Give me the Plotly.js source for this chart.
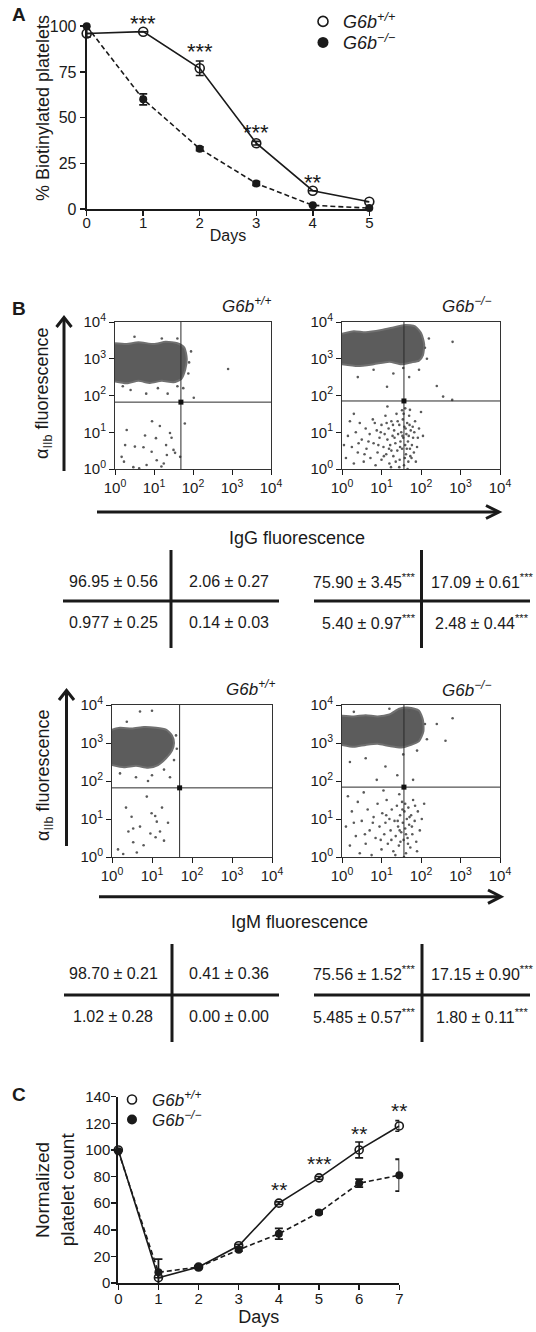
<!DOCTYPE html>
<html><head><meta charset="utf-8">
<script src="https://cdn.plot.ly/plotly-3.0.1.min.js"></script>
<style>html,body{margin:0;padding:0;background:#fff}#chart{width:536px;height:1332px}</style>
</head><body><div id="chart"></div>
<script>
// ---------------- DATA ----------------
// Panel A: % biotinylated platelets
const daysA = [0, 1, 2, 3, 4, 5];
const biotinWT = [96, 97, 77, 36, 10, 4];
const biotinWTerr = [null, null, 4, 1, null, null];
const biotinKO = [100, 60, 33, 14, 2, 0.5];
const biotinKOerr = [6, 3, 1, 1, null, null];
const starsADays = [1, 2, 3, 4];
const starsAText = ['***', '***', '***', '**'];
const starsAY = [104.5, 89.7, 45, 18];

// Panel B: flow cytometry (log10 decades), gates
const gateX = [49, 37, 49, 37];
const gateY = [66, 71, 66, 69];
// dense populations (outline, log10 units)
const c1x = [0,0.3,0.6,0.9,1.2,1.5,1.7,1.8,1.84,1.78,1.6,1.3,1.0,0.6,0.3,0];
const c1y = [2.38,2.33,2.40,2.34,2.40,2.36,2.45,2.7,3.0,3.3,3.42,3.46,3.40,3.45,3.40,3.42];
const c2x = [0,0.4,0.8,1.2,1.5,1.75,1.95,2.05,2.08,2.0,1.85,1.6,1.3,1.0,0.6,0.3,0];
const c2y = [2.85,2.8,2.85,2.92,2.85,2.9,2.95,3.1,3.4,3.7,3.88,3.92,3.85,3.78,3.72,3.75,3.68];
const c3x = [0,0.3,0.6,0.9,1.15,1.35,1.5,1.55,1.5,1.35,1.1,0.8,0.5,0.2,0];
const c3y = [2.42,2.36,2.40,2.35,2.42,2.6,2.8,3.0,3.2,3.35,3.4,3.42,3.38,3.4,3.35];
const c4x = [0,0.3,0.6,0.9,1.2,1.5,1.75,1.95,2.06,2.05,1.95,1.7,1.45,1.2,0.9,0.6,0.3,0];
const c4y = [2.95,2.9,2.95,2.98,2.92,2.88,2.95,3.05,3.3,3.6,3.85,3.93,3.9,3.75,3.7,3.73,3.7,3.72];
// sparse events (log10 units)
const d1x = [0.30,0.26,0.51,0.77,1.05,1.15,1.31,1.41,1.50,1.54,1.33,1.07,0.94,0.23,0.17,0.47,0.73,1.19,0.81,1.67,1.79,0.40,0.80,1.10,1.35,1.60,1.75,0.20,1.90,1.95,1.88,0.50,1.20,1.60,2.90,2.02,1.25,0.62,1.45,0.95];
const d1y = [1.06,0.65,0.61,0.91,0.84,1.17,0.65,0.98,0.52,0.44,0.38,0.24,0.47,0.20,0.33,0.05,0.59,0.07,0.11,0.33,1.24,2.15,2.05,2.20,2.05,2.25,2.20,2.25,2.90,3.20,2.60,3.60,3.55,3.55,2.72,1.94,0.15,0.02,0.85,1.30];
const d2x = [0.1,0.15,0.2,0.25,0.3,0.35,0.4,0.45,0.5,0.55,0.6,0.62,0.7,0.72,0.78,0.8,0.85,0.88,0.9,0.95,1.0,1.0,1.05,1.08,1.1,1.12,1.15,1.18,1.2,1.22,1.25,1.28,1.3,1.32,1.35,1.38,1.4,1.42,1.45,1.46,1.48,1.5,1.52,1.54,1.55,1.57,1.58,1.6,1.62,1.63,1.65,1.67,1.7,1.72,1.74,1.76,1.8,1.85,1.9,1.95,2.0,2.05,0.05,0.3,1.15,1.6,1.68,1.45,1.25,1.52,
  1.36,1.41,1.47,1.53,1.56,1.59,1.61,1.64,1.66,1.69,1.71,1.73,1.77,1.79,1.82,1.83,1.87,1.92,1.33,1.29,1.24,1.19,1.13,1.06,0.98,0.92,0.83,0.67,0.57,0.42,
  0.4,0.8,1.3,1.55,1.7,1.95,2.15,2.1,2.2,2.8,2.4,2.56,2.79,1.14,1.72];
const d2y = [0.3,0.9,1.3,0.6,0.15,1.0,0.45,1.25,0.8,0.2,1.1,0.55,0.95,0.3,1.35,0.7,0.1,1.05,0.45,0.85,1.2,0.25,0.6,0.95,1.45,0.4,0.8,1.1,0.15,0.65,1.3,0.9,0.35,1.05,0.7,1.5,0.5,0.95,1.2,0.25,0.75,1.0,0.55,1.35,0.85,0.1,1.15,0.65,0.4,0.95,1.25,0.75,1.45,0.55,1.05,0.3,0.85,1.3,0.6,1.1,1.55,0.9,0.65,1.5,1.7,1.65,0.2,0.05,0.5,1.6,
  0.2,1.3,0.6,0.9,1.5,0.3,1.1,0.55,0.0,0.9,1.2,0.35,0.65,1.15,0.45,1.0,0.2,0.85,0.85,1.2,0.05,0.55,1.25,0.35,1.0,0.65,1.25,0.75,0.4,0.7,
  2.5,2.7,2.6,2.75,2.5,2.7,3.0,3.3,3.55,3.46,2.26,1.97,1.88,2.24,1.61];
const d3x = [0.41,0.53,0.87,0.99,1.08,1.12,1.2,0.96,0.49,0.7,0.53,0.79,1.09,1.3,0.28,0.15,0.62,1.25,1.4,0.35,0.37,1.0,0.7,0.2,0.6,1.0,1.3,1.55,1.6,1.62,0.9,1.45];
const d3y = [0.67,0.75,1.59,1.15,1.08,0.93,0.67,0.62,1.06,0.8,0.39,0.31,0.52,0.43,0.08,0.2,0.12,1.3,0.9,1.3,3.56,3.85,3.83,2.2,2.1,2.15,2.3,2.55,3.2,2.85,2.0,2.1];
const d4x = [0.1,0.2,0.25,0.35,0.4,0.45,0.5,0.6,0.65,0.7,0.75,0.8,0.85,0.9,0.95,1.0,1.02,1.07,1.1,1.13,1.16,1.2,1.23,1.26,1.3,1.33,1.36,1.39,1.42,1.44,1.47,1.5,1.52,1.54,1.56,1.58,1.6,1.62,1.64,1.66,1.68,1.7,1.73,1.75,1.78,1.8,1.84,1.88,1.92,1.97,2.02,2.08,0.15,0.55,1.05,1.45,1.35,1.57,1.48,1.62,1.71,1.53,1.41,1.67,1.77,1.85,1.25,1.12,0.98,0.78,0.58,0.3,1.9,1.6,1.46,
  2.8,2.4,2.62,0.88,1.4,1.8,1.1,0.2,0.6,1.55,1.9,2.15,2.1,1.7,1.2,0.3];
const d4y = [0.8,0.3,1.2,0.55,1.45,0.1,0.95,0.35,1.25,0.7,0.05,1.05,0.5,1.4,0.8,0.2,1.15,0.6,0.9,1.5,0.35,1.0,0.7,1.25,0.15,0.95,0.55,1.35,0.8,0.3,1.1,0.65,1.45,0.9,0.45,1.2,0.75,0.1,1.0,0.5,1.3,0.85,0.25,1.1,0.6,1.5,0.95,0.4,1.2,0.7,1.0,1.4,1.6,1.7,1.75,1.65,0.05,0.0,0.4,0.6,1.05,1.25,0.95,0.35,0.8,1.35,0.45,1.1,0.45,0.9,0.6,0.9,0.15,1.4,0.7,
  3.65,3.5,3.06,2.03,2.15,2.03,2.38,2.5,2.6,2.7,2.8,3.1,3.5,3.85,3.9,3.82];
const decadeVals = [1, 10, 100, 1000, 10000];
const decadeText = ['10<sup>0</sup>','10<sup>1</sup>','10<sup>2</sup>','10<sup>3</sup>','10<sup>4</sup>'];
// quadrant tables [UL, UR, LL, LR]
const iggWT = ['96.95 ± 0.56', '2.06 ± 0.27', '0.977 ± 0.25', '0.14 ± 0.03'];
const iggKO = ['75.90 ± 3.45***', '17.09 ± 0.61***', '5.40 ± 0.97***', '2.48 ± 0.44***'];
const igmWT = ['98.70 ± 0.21', '0.41 ± 0.36', '1.02 ± 0.28', '0.00 ± 0.00'];
const igmKO = ['75.56 ± 1.52***', '17.15 ± 0.90***', '5.485 ± 0.57***', '1.80 ± 0.11***'];

// Panel C: normalized platelet count
const daysC = [0, 1, 2, 3, 4, 5, 6, 7];
const countWT = [100, 4, 12, 28, 60, 79, 100, 118];
const countWTerr = [null, null, 1, 1, 1, 1, 6, 4];
const countKO = [99, 8, 12, 25, 37, 53, 75, 81];
const countKOerr = [null, 10, 1, 1, 4, 1, 3, 12];
const starsCDays = [4, 5, 6, 7];
const starsCText = ['**', '***', '**', '**'];
const starsCY = [75, 94, 117, 134.5];

// ---------------- LAYOUT HELPERS ----------------
const W = 536, H = 1332;
const FONT = '"Liberation Sans", Arial, Helvetica, sans-serif';
const INK = '#1a1a1a';
const px = v => v / W;
const py = v => 1 - v / H;
const pow10 = a => a.map(v => Math.pow(10, v));
const WTname = '<i>G6b<sup>+/+</sup></i>';
const KOname = '<i>G6b<sup>−/−</sup></i>';
const rangeA = [0, 100];

const traces = [];
// Panel A
traces.push({x: daysA, y: biotinWT, xaxis: 'x', yaxis: 'y', mode: 'lines+markers', showlegend: false,
  line: {color: INK, width: 1.6}, marker: {symbol: 'circle-open', size: 9, color: INK, line: {width: 1.6, color: INK}},
  error_y: {type: 'data', array: biotinWTerr, color: INK, thickness: 1.6, width: 4}, cliponaxis: false});
traces.push({x: daysA, y: biotinKO, xaxis: 'x', yaxis: 'y', mode: 'lines+markers', showlegend: false,
  line: {color: INK, width: 1.6, dash: '5px,3px'}, marker: {symbol: 'circle', size: 8, color: INK},
  error_y: {type: 'data', array: biotinKOerr, color: INK, thickness: 1.8, width: 4}, cliponaxis: false});
traces.push({x: [null], y: [null], xaxis: 'x', yaxis: 'y', mode: 'markers', name: WTname, legend: 'legend',
  marker: {symbol: 'circle-open', size: 10, color: INK, line: {width: 1.6, color: INK}}});
traces.push({x: [null], y: [null], xaxis: 'x', yaxis: 'y', mode: 'markers', name: KOname, legend: 'legend3',
  marker: {symbol: 'circle', size: 11, color: INK}});

// Panel B flow plots
const flows = [
  {cx: c1x, cy: c1y, dx: d1x, dy: d1y, ax: 'x2', ay: 'y2'},
  {cx: c2x, cy: c2y, dx: d2x, dy: d2y, ax: 'x3', ay: 'y3'},
  {cx: c3x, cy: c3y, dx: d3x, dy: d3y, ax: 'x4', ay: 'y4'},
  {cx: c4x, cy: c4y, dx: d4x, dy: d4y, ax: 'x5', ay: 'y5'}
];
flows.forEach((f, i) => {
  traces.push({x: pow10(f.cx), y: pow10(f.cy), xaxis: f.ax, yaxis: f.ay, mode: 'lines', fill: 'toself',
    fillcolor: '#5c5c5c', line: {color: '#707070', width: 2, shape: 'spline', smoothing: 0.6},
    showlegend: false, hoverinfo: 'skip'});
  traces.push({x: pow10(f.dx), y: pow10(f.dy), xaxis: f.ax, yaxis: f.ay, mode: 'markers', showlegend: false,
    marker: {size: 2.6, color: '#5a5a5a'}, hoverinfo: 'skip'});
  traces.push({x: [gateX[i], gateX[i]], y: [decadeVals[0], decadeVals[4]], xaxis: f.ax, yaxis: f.ay, mode: 'lines',
    line: {color: '#2a2a2a', width: 1}, showlegend: false});
  traces.push({x: [decadeVals[0], decadeVals[4]], y: [gateY[i], gateY[i]], xaxis: f.ax, yaxis: f.ay, mode: 'lines',
    line: {color: '#2a2a2a', width: 1}, showlegend: false});
  traces.push({x: [gateX[i]], y: [gateY[i]], xaxis: f.ax, yaxis: f.ay, mode: 'markers',
    marker: {symbol: 'square', size: 5, color: '#111'}, showlegend: false});
});

// Panel C
traces.push({x: daysC, y: countWT, xaxis: 'x6', yaxis: 'y6', mode: 'lines+markers', showlegend: false,
  line: {color: INK, width: 1.6}, marker: {symbol: 'circle-open', size: 8, color: INK, line: {width: 1.6, color: INK}},
  error_y: {type: 'data', array: countWTerr, color: INK, thickness: 1.6, width: 4}, cliponaxis: false});
traces.push({x: daysC, y: countKO, xaxis: 'x6', yaxis: 'y6', mode: 'lines+markers', showlegend: false,
  line: {color: INK, width: 1.6, dash: '5px,3px'}, marker: {symbol: 'circle', size: 8, color: INK},
  error_y: {type: 'data', array: countKOerr, color: INK, thickness: 1.8, width: 4}, cliponaxis: false});
traces.push({x: [null], y: [null], xaxis: 'x6', yaxis: 'y6', mode: 'markers', name: WTname, legend: 'legend2',
  marker: {symbol: 'circle-open', size: 9, color: INK, line: {width: 1.6, color: INK}}});
traces.push({x: [null], y: [null], xaxis: 'x6', yaxis: 'y6', mode: 'markers', name: KOname, legend: 'legend4',
  marker: {symbol: 'circle', size: 10, color: INK}});

// ---------------- AXES ----------------
const baseAxis = {showline: true, linecolor: INK, linewidth: 2, ticks: 'outside', ticklen: 5, tickwidth: 1.5,
  tickcolor: INK, showgrid: false, zeroline: false, fixedrange: true};
const flowAxis = (dom, anchor) => Object.assign({}, baseAxis, {type: 'log', range: [0, 4], domain: dom, anchor: anchor,
  mirror: true, linewidth: 1, linecolor: '#333', tickwidth: 1, tickvals: decadeVals, ticktext: decadeText,
  tickfont: {size: 15}});
const legendAt = (x, y, size) => ({x: px(x), y: py(y), xanchor: 'left', yanchor: 'middle', bgcolor: 'rgba(0,0,0,0)',
  font: {size: size, family: FONT, color: INK}, itemwidth: 30, borderwidth: 0});

const layout = {
  width: W, height: H, margin: {l: 0, r: 0, t: 0, b: 0},
  paper_bgcolor: '#fff', plot_bgcolor: 'rgba(0,0,0,0)',
  font: {family: FONT, color: INK, size: 15},
  xaxis: Object.assign({}, baseAxis, {domain: [px(86.7), px(369.3)], range: [0, 5], anchor: 'y', dtick: 1,
    tickfont: {size: 15}, ticklabelstandoff: -6, title: {text: 'Days', font: {size: 16}, standoff: 0}}),
  yaxis: Object.assign({}, baseAxis, {domain: [py(209), py(26.2)], range: rangeA, anchor: 'x',
    tickvals: [0, 25, 50, 75, 100], tickfont: {size: 16}}),
  xaxis2: flowAxis([px(115), px(271)], 'y2'), yaxis2: flowAxis([py(469), py(322)], 'x2'),
  xaxis3: flowAxis([px(342), px(500)], 'y3'), yaxis3: flowAxis([py(469), py(322)], 'x3'),
  xaxis4: flowAxis([px(112), px(272)], 'y4'), yaxis4: flowAxis([py(857), py(705)], 'x4'),
  xaxis5: flowAxis([px(342), px(500)], 'y5'), yaxis5: flowAxis([py(857), py(705)], 'x5'),
  xaxis6: Object.assign({}, baseAxis, {domain: [px(118.3), px(399.3)], range: [0, 7], anchor: 'y6', dtick: 1,
    tickfont: {size: 15}, ticklabelstandoff: -4, title: {text: 'Days', font: {size: 18}, standoff: 3}}),
  yaxis6: Object.assign({}, baseAxis, {domain: [py(1283), py(1096.7)], range: [0, 140], anchor: 'x6', dtick: 20,
    tickfont: {size: 15}, ticklabelstandoff: -2, title: {text: 'Normalized<br>platelet count', font: {size: 19}, standoff: 6}}),
  legend: legendAt(303, 21.7, 18),
  legend3: legendAt(303, 42.7, 18),
  legend2: legendAt(112, 1100, 17),
  legend4: legendAt(112, 1120, 17),
  annotations: [], shapes: []
};

const ann = layout.annotations, shp = layout.shapes;
function txt(text, x, y, size, opts) {
  ann.push(Object.assign({text: text, x: px(x), y: py(y), xref: 'paper', yref: 'paper', showarrow: false,
    xanchor: 'center', yanchor: 'middle', font: {size: size, family: FONT, color: INK}}, opts || {}));
}
// panel letters
txt('<b>A</b>', 19, 15, 19); txt('<b>B</b>', 19, 308, 19); txt('<b>C</b>', 19, 1094, 19);
// axis title A (y)
txt('% Biotinylated platelets', 43, 108, 18, {textangle: -90});
// stars (A uses the y-axis domain so the day-1 stars above 100 stay visible)
starsADays.forEach((d, i) => ann.push({text: starsAText[i], x: d, y: (starsAY[i] - rangeA[0]) / (rangeA[1] - rangeA[0]),
  xref: 'x', yref: 'y domain', xanchor: 'center', yanchor: 'middle', showarrow: false, yshift: -6,
  font: {size: 22, family: FONT, color: INK}}));
starsCDays.forEach((d, i) => ann.push({text: starsCText[i], x: d, y: starsCY[i], xref: 'x6', yref: 'y6', showarrow: false,
  xanchor: 'center', yanchor: 'middle', yshift: -6, font: {size: 21, family: FONT, color: INK}}));
// flow subplot titles
txt(WTname, 273, 305, 17, {xanchor: 'right'}); txt(KOname, 493, 305, 17, {xanchor: 'right'});
txt(WTname, 277, 688, 17, {xanchor: 'right'}); txt(KOname, 493, 689, 17, {xanchor: 'right'});
// shared axis labels
txt('α<sub>IIb</sub> fluorescence', 44, 394, 18, {textangle: -90});
txt('α<sub>IIb</sub> fluorescence', 44, 776, 18, {textangle: -90});
txt('IgG fluorescence', 297, 538, 18);
txt('IgM fluorescence', 299, 922, 18);

// arrows
function line(x0, y0, x1, y1, w) {
  shp.push({type: 'line', xref: 'paper', yref: 'paper', x0: px(x0), y0: py(y0), x1: px(x1), y1: py(y1),
    line: {color: INK, width: w}});
}
function chevron(pts, w) {
  const d = 'M' + pts.map(p => px(p[0]) + ',' + py(p[1])).join(' L');
  shp.push({type: 'path', xref: 'paper', yref: 'paper', path: d, line: {color: INK, width: w}});
}
line(64, 471, 64, 318, 3); chevron([[56.5, 327], [64, 317.5], [71.5, 327]], 3);
line(97, 512, 498, 512, 3); chevron([[486, 505.5], [499, 512], [486, 518.5]], 3);
line(66.5, 846, 66.5, 691, 3); chevron([[59, 700], [66.5, 690.5], [74, 700]], 3);
line(99, 896.7, 500, 896.7, 3); chevron([[488, 890], [501, 896.7], [488, 903.4]], 3);

// tables
const starify = s => s.replace('***', '<sup>***</sup>');
function table(vals, kind, r1, r2, hy, vTop, vBot, vx, hx0, hx1) {
  line(hx0, hy, hx1, hy, 3);
  line(vx, vTop, vx, vBot, 3);
  if (kind === 'wt') {
    txt(vals[0], 113, r1, 16); txt(vals[1], 229, r1, 16);
    txt(vals[2], 113, r2, 16); txt(vals[3], 229, r2, 16);
  } else {
    txt(starify(vals[0]), 418, r1, 16, {xanchor: 'right'}); txt(starify(vals[1]), 482, r1, 16);
    txt(starify(vals[2]), 418, r2, 16, {xanchor: 'right'}); txt(starify(vals[3]), 482, r2, 16);
  }
}
table(iggWT, 'wt', 581, 622, 601, 550, 648, 171, 63, 279);
table(iggKO, 'ko', 581, 622, 601, 550, 648, 421.5, 314, 530);
table(igmWT, 'wt', 973, 1016, 995, 944, 1042, 172, 64, 279);
table(igmKO, 'ko', 973, 1016, 995, 944, 1042, 422, 314, 530);

Plotly.newPlot('chart', traces, layout, {displayModeBar: false, staticPlot: true});
</script></body></html>
